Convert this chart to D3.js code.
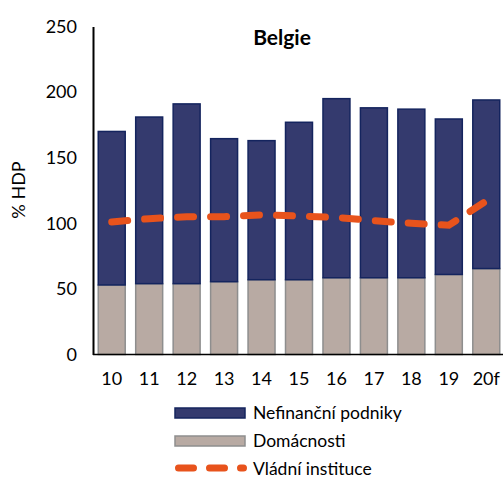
<!DOCTYPE html>
<html>
<head>
    <meta charset="utf-8">
    <title>Belgie</title>
    <script src="https://d3js.org/d3.v7.min.js"></script>
    <style>
        body { margin: 0; background: #fff; }
        text { font-family: Lato, "Open Sans", sans-serif; fill: #000; }
    </style>
</head>
<body>
<div id="chart"></div>
<script>
    let roky = ['10', '11', '12', '13', '14', '15', '16', '17', '18', '19', '20f'];
    let domacnosti = [53, 54, 54, 55.5, 57, 57, 58.5, 58.5, 58.5, 61, 65.5];
    let podniky = [117, 127, 137, 109, 106, 120, 136.5, 129.5, 128.5, 118.5, 128.5];
    let vlada = [101, 103.5, 105, 105, 106.5, 105.5, 104.5, 102, 100, 98.5, 117];
    let yTicks = [0, 50, 100, 150, 200, 250];

    let svgw = 503, svgh = 478;
    let margen = {izq: 93, der: -2, sup: 26.5, inf: 123.5};

    let svg = d3.select('#chart').append('svg')
        .attr('width', svgw)
        .attr('height', svgh);

    let x = d3.scaleBand()
        .domain(roky)
        .range([margen.izq, svgw - margen.der])
        .paddingInner(0.28)
        .paddingOuter(0.14);

    let y = d3.scaleLinear()
        .domain([0, 250])
        .range([svgh - margen.inf, margen.sup]);

    // sloupce - domacnosti
    svg.append('g').selectAll('rect')
        .data(roky)
        .enter().append('rect')
        .attr('x', (d, i) => x(d))
        .attr('width', x.bandwidth())
        .attr('y', (d, i) => y(domacnosti[i]))
        .attr('height', (d, i) => y(0) - y(domacnosti[i]))
        .attr('fill', '#B8AAA3')
        .attr('stroke', '#8E8E8E')
        .attr('stroke-width', 1.5);

    // sloupce - nefinancni podniky
    svg.append('g').selectAll('rect')
        .data(roky)
        .enter().append('rect')
        .attr('x', (d, i) => x(d))
        .attr('width', x.bandwidth())
        .attr('y', (d, i) => y(domacnosti[i] + podniky[i]))
        .attr('height', (d, i) => y(domacnosti[i]) - y(domacnosti[i] + podniky[i]))
        .attr('fill', '#343A6E')
        .attr('stroke', '#14245E')
        .attr('stroke-width', 1.5);

    // osy
    let osaY = svg.append('g')
        .attr('transform', `translate(${margen.izq},0)`)
        .call(d3.axisLeft(y).tickValues(yTicks).tickSize(0).tickPadding(16));
    osaY.select('.domain').attr('stroke', '#000').attr('stroke-width', 2);
    osaY.selectAll('text').style('font-size', '18px');

    let osaX = svg.append('g')
        .attr('transform', `translate(0,${y(0)})`)
        .call(d3.axisBottom(x).tickSize(0).tickPadding(18));
    osaX.select('.domain').attr('stroke', '#000').attr('stroke-width', 1.5)
        .attr('d', `M${margen.izq},0H${svgw}`);
    osaX.selectAll('text').style('font-size', '18px');

    // vladni instituce
    let line = d3.line()
        .x((d, i) => x(roky[i]) + x.bandwidth() / 2)
        .y(d => y(d));

    svg.append('path')
        .datum(vlada)
        .attr('d', line)
        .attr('fill', 'none')
        .attr('stroke', '#E8531C')
        .attr('stroke-width', 7)
        .attr('stroke-linecap', 'round')
        .attr('stroke-dasharray', '16 17');

    // titulek
    svg.append('text')
        .attr('x', 282)
        .attr('y', 45)
        .attr('text-anchor', 'middle')
        .style('font-size', '21px')
        .style('font-weight', 'bold')
        .text('Belgie');

    svg.append('text')
        .attr('transform', `translate(25,${190}) rotate(-90)`)
        .attr('text-anchor', 'middle')
        .style('font-size', '18px')
        .text('% HDP');

    // legenda
    let leg = svg.append('g');
    leg.append('rect').attr('x', 175).attr('y', 408).attr('width', 70).attr('height', 10)
        .attr('fill', '#343A6E').attr('stroke', '#14245E').attr('stroke-width', 1.5);
    leg.append('rect').attr('x', 175).attr('y', 436).attr('width', 70).attr('height', 10)
        .attr('fill', '#B8AAA3').attr('stroke', '#8E8E8E').attr('stroke-width', 1.5);
    leg.append('line').attr('x1', 178.5).attr('x2', 243.5).attr('y1', 468).attr('y2', 468)
        .attr('stroke', '#E8531C').attr('stroke-width', 7).attr('stroke-linecap', 'round')
        .attr('stroke-dasharray', '15 16');

    let legTexty = ['Nefinanční podniky', 'Domácnosti', 'Vládní instituce'];
    leg.selectAll('text.leg')
        .data(legTexty)
        .enter().append('text')
        .attr('x', 253)
        .attr('y', (d, i) => 419 + i * 28)
        .style('font-size', '17.5px')
        .text(d => d);
</script>
</body>
</html>
